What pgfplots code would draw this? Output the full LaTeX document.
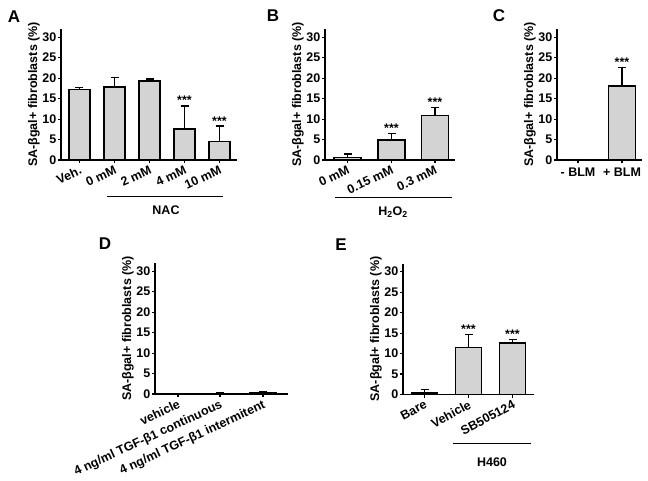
\documentclass[border=0pt]{standalone}
\usepackage{fontspec}
\setmainfont{Liberation Sans}
\usepackage{pgfplots}
\pgfplotsset{compat=1.18}
\definecolor{barfill}{RGB}{211,211,211}
\newcommand{\lf}{\fontsize{12.5}{14}\selectfont\bfseries}
\newcommand{\pf}{\fontsize{17}{19}\selectfont\bfseries}
\pgfplotsset{panel/.style={
  scale only axis, height=131pt, ymin=0, ymax=32, ytick={0,5,...,30},
  axis lines*=left, axis line style={-, line width=1.4pt},
  tick align=outside, major tick length=3pt,
  every tick/.style={black, line width=1.1pt},
  /pgf/number format/assume math mode=true,
  tick label style={font=\lf},
  yticklabel style={inner sep=1.5pt},
  ylabel={SA-βgal+ fibroblasts (\%)},
  ylabel style={font=\lf, inner sep=1pt},
  clip=false, anchor=south west,
 },
 rot/.style={xticklabel style={rotate=#1, anchor=north east, inner sep=1.5pt}},
 bars/.style={ybar, fill=barfill, draw=black, line width=1.6pt,
  error bars/y dir=plus, error bars/y explicit,
  error bars/error bar style={line width=1.4pt, black},
  error bars/error mark options={black, line width=1.4pt, mark size=4pt, rotate=90}},
}
\tikzset{stars/.style={font=\lf, anchor=base, inner sep=0pt, yshift=1pt}}
\begin{document}
\begin{tikzpicture}
\useasboundingbox (0,0) rectangle (648pt,480pt);
% Panel A
\begin{axis}[panel, rot=25, at={(61pt,320pt)}, width=176pt, xmin=61, xmax=237,
  xtick={79.5,114.5,149.5,184.5,219.5},
  xticklabels={Veh.,0 mM,2 mM,4 mM,10 mM}]
\addplot[bars, bar width=21pt] coordinates {
 (79.5,17.2) +- (0,0.5)
 (114.5,17.9) +- (0,2.2)
 (149.5,19.3) +- (0,0.45)
 (184.5,7.6) +- (0,5.6)
 (219.5,4.5) +- (0,3.8)};
\node[stars] at (axis cs:184.5,13.2) {***};
\node[stars] at (axis cs:219.5,8.3) {***};
\end{axis}
% Panel B
\begin{axis}[panel, rot=25, at={(325pt,320pt)}, width=130pt, xmin=325, xmax=455,
  xtick={347.5,391.5,435},
  xticklabels={0 mM,0.15 mM,0.3 mM}]
\addplot[bars, bar width=27pt] coordinates {
 (347.5,0.65) +- (0,0.8)
 (391.5,4.9) +- (0,1.6)
 (435,10.9) +- (0,1.95)};
\node[stars] at (axis cs:391.5,6.5) {***};
\node[stars] at (axis cs:435,12.85) {***};
\end{axis}
% Panel C
\begin{axis}[panel, at={(557pt,320pt)}, width=85pt, xmin=557, xmax=642,
  xtick={578,622},
  xticklabels={- BLM,+ BLM},
  xticklabel style={anchor=north, inner sep=5pt}]
\addplot[bars, bar width=27pt] coordinates {
 (578,0) +- (0,0)
 (622,18.1) +- (0,4.5)};
\node[stars] at (axis cs:622,22.6) {***};
\end{axis}
% Panel D
\begin{axis}[panel, rot=25, at={(155pt,86pt)}, width=133pt, xmin=155, xmax=288,
  xtick={178,220,263},
  xticklabels={vehicle,4 ng/ml TGF-β1 continuous,4 ng/ml TGF-β1 intermitent}]
\addplot[bars, bar width=26pt] coordinates {
 (178,0.1) +- (0,0.05)
 (220,0.15) +- (0,0.1)
 (263,0.3) +- (0,0.15)};
\end{axis}
% Panel E
\begin{axis}[panel, rot=28, at={(403pt,85.5pt)}, width=131pt, xmin=403, xmax=534,
  xtick={424.5,468.5,512.5},
  xticklabels={Bare,Vehicle,SB505124}]
\addplot[bars, bar width=26pt] coordinates {
 (424.5,0.4) +- (0,0.8)
 (468.5,11.5) +- (0,3.1)
 (512.5,12.6) +- (0,0.9)};
\node[stars] at (axis cs:468.5,14.6) {***};
\node[stars] at (axis cs:512.5,13.5) {***};
\end{axis}
% group brackets
\draw[line width=0.9pt] (107pt,284pt) -- (223pt,284pt);
\node[font=\lf] at (166pt,270pt) {NAC};
\draw[line width=0.9pt] (335pt,283pt) -- (452pt,283pt);
\node[font=\lf] at (393pt,268pt) {H\textsubscript{2}O\textsubscript{2}};
\draw[line width=0.9pt] (453pt,37pt) -- (531pt,37pt);
\node[font=\lf] at (492pt,18pt) {H460};
% panel letters
\node[font=\pf] at (14pt,463pt) {A};
\node[font=\pf] at (273pt,464pt) {B};
\node[font=\pf] at (499pt,464.5pt) {C};
\node[font=\pf] at (105pt,236pt) {D};
\node[font=\pf] at (341pt,235pt) {E};
\end{tikzpicture}
\end{document}
